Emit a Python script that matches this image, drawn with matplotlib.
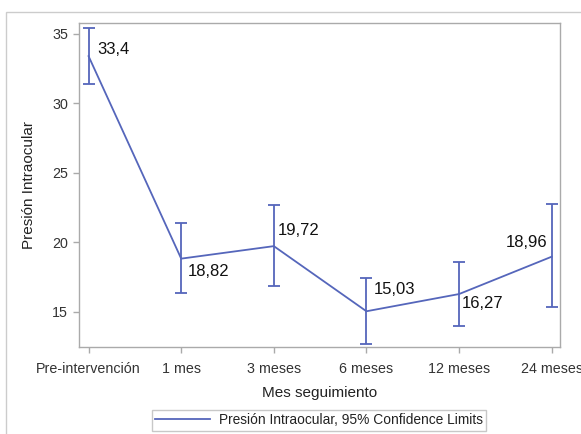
import matplotlib
matplotlib.use("Agg")
import matplotlib.pyplot as plt
from matplotlib.patches import Rectangle
from matplotlib.lines import Line2D

plt.rcParams.update({
    "font.family": ["Liberation Sans", "DejaVu Sans"],
    "axes.linewidth": 1.0,
})

# Presión intraocular media por visita, con límites de confianza al 95%
visitas = ["Pre-intervención", "1 mes", "3 meses", "6 meses", "12 meses", "24 meses"]
media = [33.4, 18.82, 19.72, 15.03, 16.27, 18.96]
ic_inf = [31.4, 16.33, 16.86, 12.68, 13.98, 15.35]
ic_sup = [35.43, 21.41, 22.68, 17.45, 18.6, 22.73]
etiquetas = ["33,4", "18,82", "19,72", "15,03", "16,27", "18,96"]

# desplazamiento de cada etiqueta (puntos) y alineación horizontal
despl = [(6, 5), (4.5, -9), (3, 11.5), (5, 15.5), (2, -7), (-3, 10.5)]
alin = ["left", "left", "left", "left", "left", "right"]

AZUL = "#5566BB"
GRIS = "#AAAAAA"

fig = plt.figure(figsize=(5.81, 4.34), dpi=100)
fig.patches.append(Rectangle((5.5 / 581, -0.1), 1.2, 0.9717 + 0.1,
                             transform=fig.transFigure, fill=False,
                             edgecolor="#CCCCCC", linewidth=1.0))
ax = fig.add_axes([0.1365, 0.2012, 0.9639 - 0.1365, 0.9477 - 0.2012])

x = list(range(len(visitas)))
yerr = [[m - lo for m, lo in zip(media, ic_inf)],
        [hi - m for m, hi in zip(media, ic_sup)]]
ax.errorbar(x, media, yerr=yerr, color=AZUL, linewidth=1.3, elinewidth=1.3,
            capsize=4, capthick=1.3)

for xi, m, txt, d, ha in zip(x, media, etiquetas, despl, alin):
    ax.annotate(txt, (xi, m), xytext=d, textcoords="offset points",
                ha=ha, va="center", fontsize=12, color="#111111")

ax.set_xlim(-0.1, 5.09)
ax.set_ylim(12.48, 35.81)
ax.set_xticks(x)
ax.set_xticklabels(visitas)
ax.set_yticks([15, 20, 25, 30, 35])
ax.tick_params(axis="both", colors=GRIS, labelcolor="#333333",
               labelsize=10.3, length=4, width=1.0)
ax.tick_params(axis="x", pad=7)
ax.tick_params(axis="y", pad=4)

for s in ax.spines.values():
    s.set_color(GRIS)

ax.set_xlabel("Mes seguimiento", fontsize=11, color="#222222", labelpad=7)
ax.set_ylabel("Presión Intraocular", fontsize=11, color="#222222", labelpad=12)

linea = Line2D([], [], color=AZUL, linewidth=1.3)
leg = fig.legend([linea], ["Presión Intraocular, 95% Confidence Limits"],
                 loc="lower center", bbox_to_anchor=(0.549, 0.008), fontsize=9.9,
                 frameon=True, fancybox=False, handlelength=4.0,
                 borderpad=0.25, handletextpad=0.6, borderaxespad=0)
leg.get_frame().set_edgecolor("#BBBBBB")
leg.get_frame().set_linewidth(1.0)
for t in leg.get_texts():
    t.set_color("#222222")

fig.savefig("out.png", dpi=100)
